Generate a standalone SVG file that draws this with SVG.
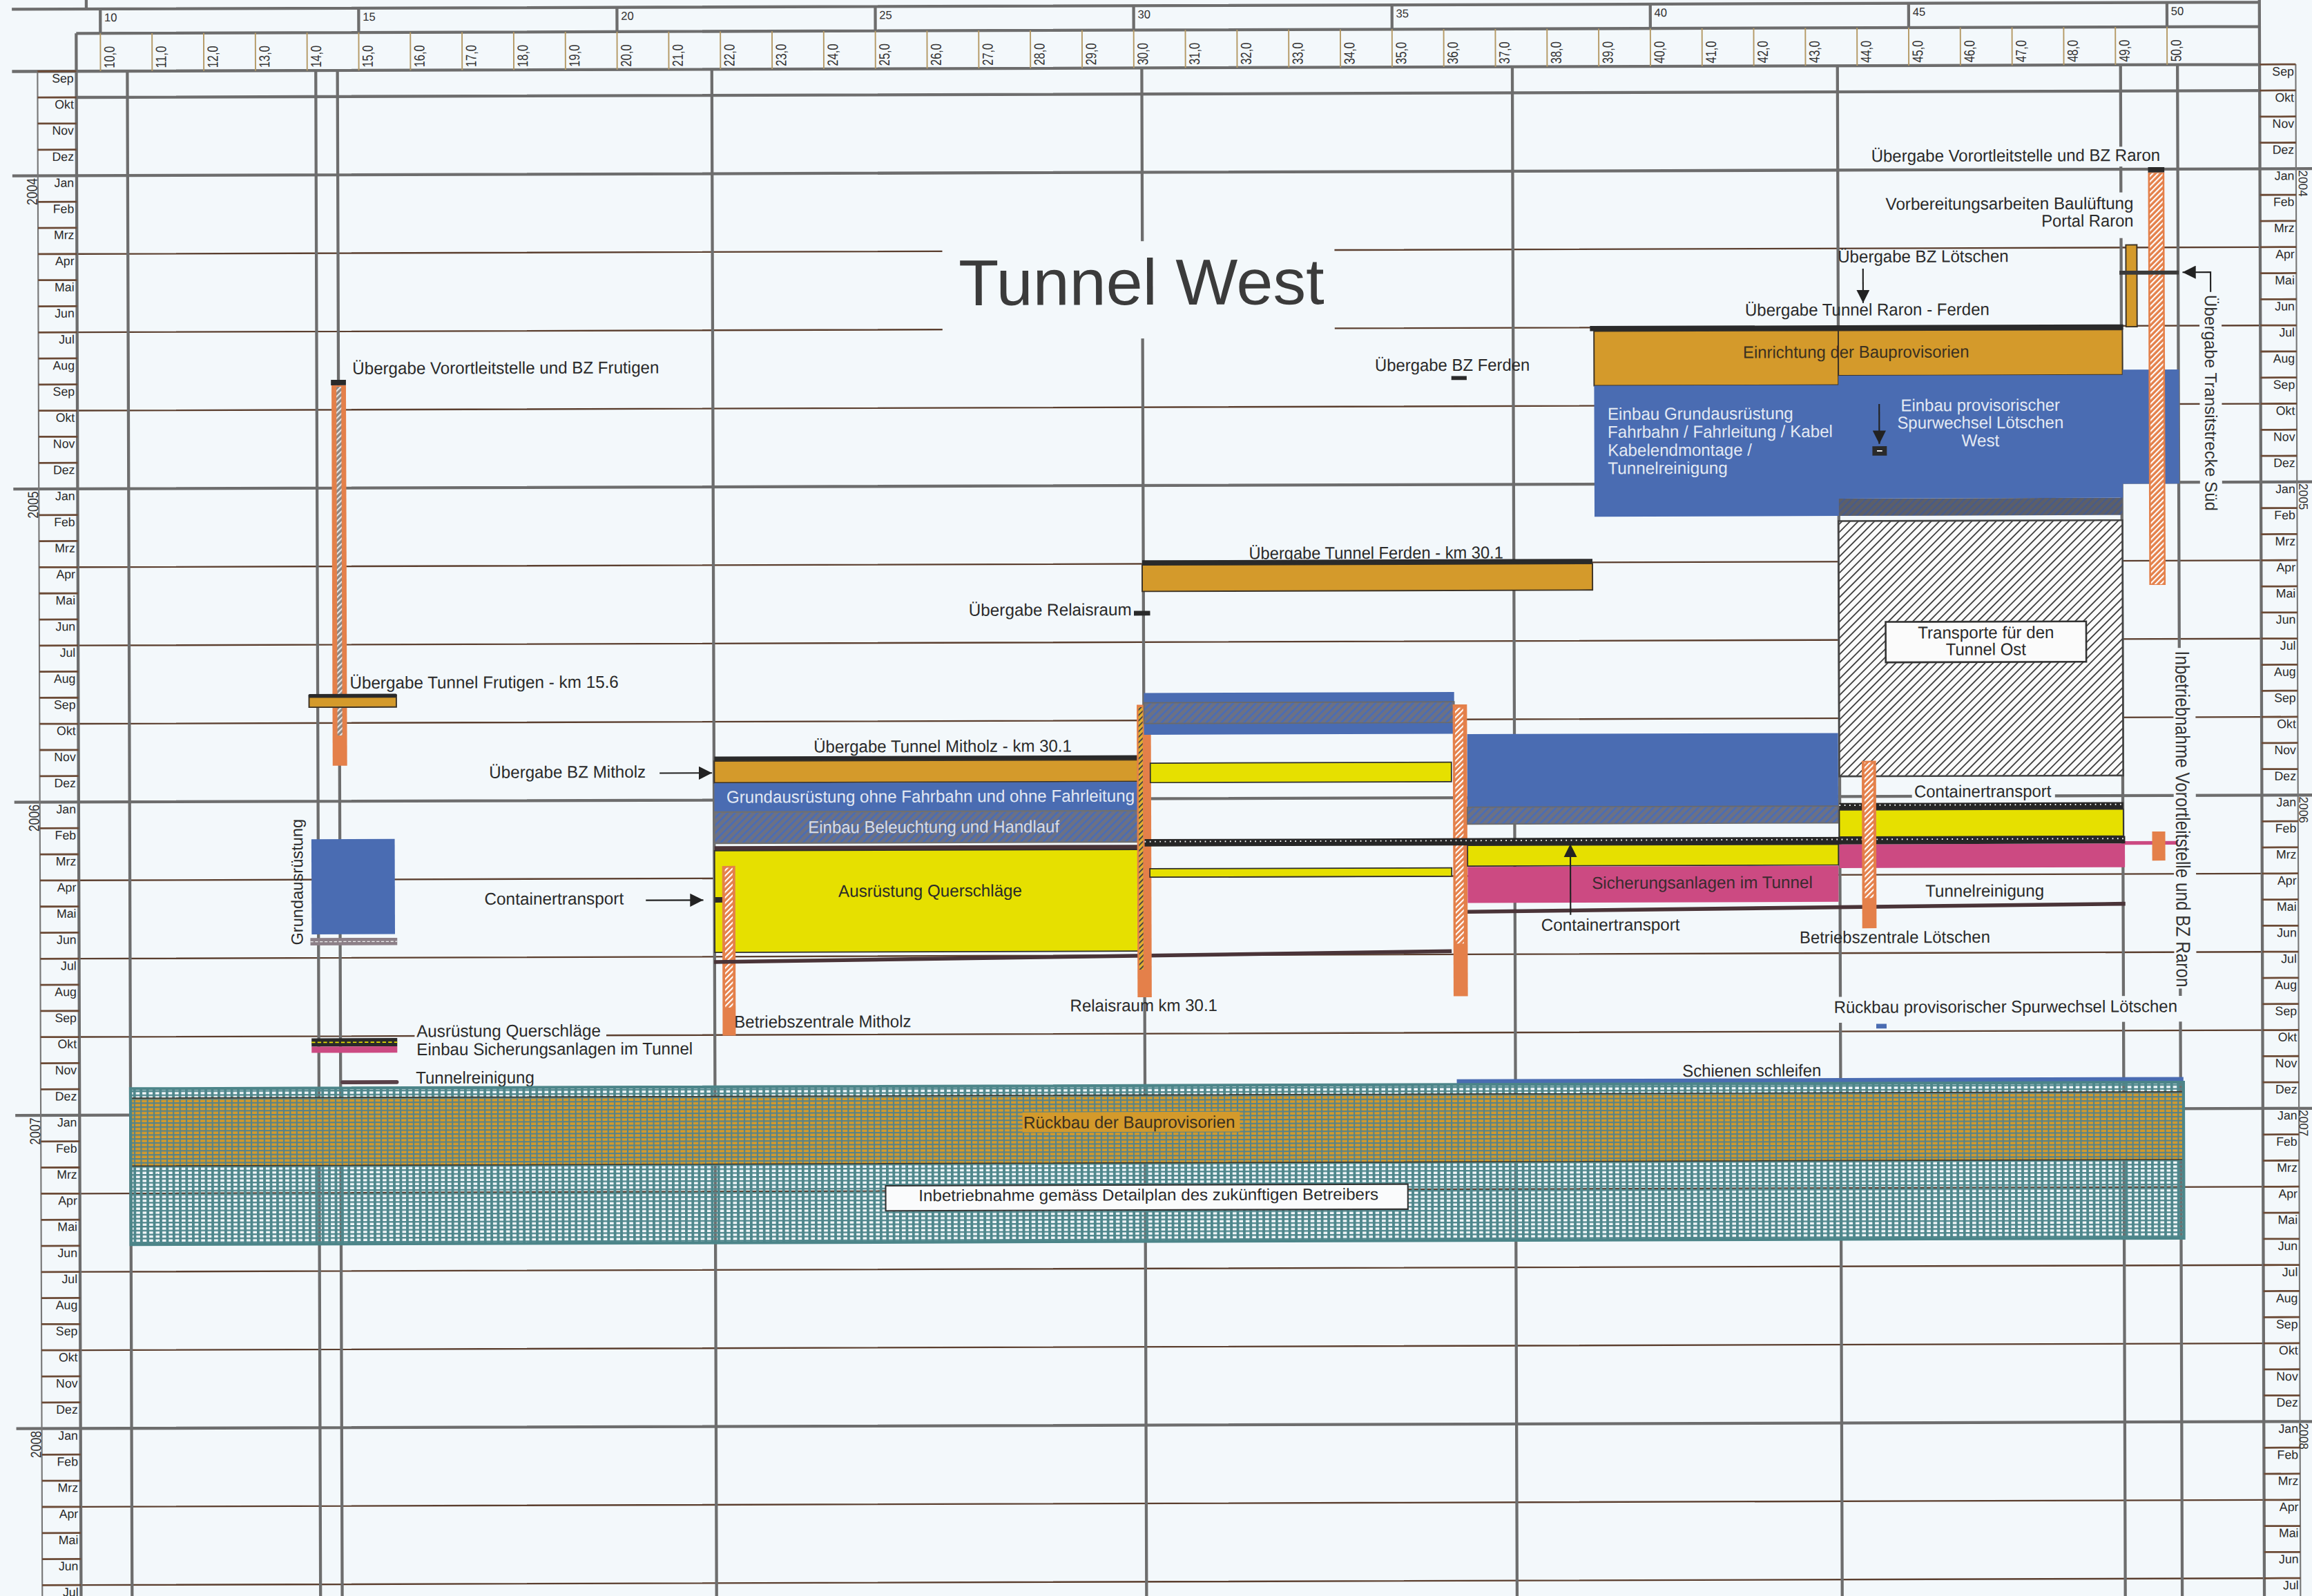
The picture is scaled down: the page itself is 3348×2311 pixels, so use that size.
<svg xmlns="http://www.w3.org/2000/svg" width="3348" height="2311" viewBox="0 0 3348 2311">
<defs>
<style>
.t{font-family:"Liberation Sans",Arial,Helvetica,sans-serif;fill:#2a2a2a;font-size:11.5px}
.mo{font-family:"Liberation Sans",Arial,sans-serif;fill:#2a2a2a;font-size:8.3px;text-anchor:end}
.km{font-family:"Liberation Sans",Arial,sans-serif;fill:#333;font-size:10px}
.kj{font-family:"Liberation Sans",Arial,sans-serif;fill:#333;font-size:7.8px}
.yr{font-family:"Liberation Sans",Arial,sans-serif;fill:#333;font-size:10px}
.yr2{font-family:"Liberation Sans",Arial,sans-serif;fill:#333;font-size:8.5px}
.w{fill:#e3e9f3}
.gv{stroke:#6d6d6d;stroke-width:2;fill:none}
.gb{stroke:#5b3f2f;stroke-width:1.1;fill:none}
.kb{fill:#f3f8fb}
.gold{fill:#d49a2b;stroke:#3b3226;stroke-width:0.9}
.blue{fill:#4a6cb2}
.yel{fill:#e6e000;stroke:#2e2e2e;stroke-width:0.8}
.pink{fill:#cc4a82}
.or{fill:#e4804a}
.blk{fill:#2a2a2a}
.cn{stroke:#222;stroke-width:1;fill:none;marker-end:url(#ah)}
</style>
<pattern id="hB" width="3.6" height="3.6" patternUnits="userSpaceOnUse" patternTransform="rotate(45)"><rect width="3.6" height="3.6" fill="#6c7184"/><rect width="1.3" height="3.6" fill="#4b6cb3"/></pattern>
<pattern id="hD" width="3.4" height="3.4" patternUnits="userSpaceOnUse" patternTransform="rotate(45)"><rect width="3.4" height="3.4" fill="#5d5f68"/><rect width="1.2" height="3.4" fill="#485b88"/></pattern>
<pattern id="hK" width="3.9" height="3.9" patternUnits="userSpaceOnUse" patternTransform="rotate(45)"><rect width="3.9" height="3.9" fill="#fbfbfb"/><rect width="0.85" height="3.9" fill="#404040"/></pattern>
<pattern id="hW" width="2.6" height="2.6" patternUnits="userSpaceOnUse" patternTransform="rotate(45)"><rect width="1" height="2.6" fill="#ffffff"/></pattern>
<pattern id="hG" width="2.6" height="2.6" patternUnits="userSpaceOnUse" patternTransform="rotate(45)"><rect width="2.6" height="2.6" fill="#8f867f"/><rect width="1" height="2.6" fill="#e6e6e6"/></pattern>
<pattern id="hY" width="2.6" height="2.6" patternUnits="userSpaceOnUse" patternTransform="rotate(45)"><rect width="2.6" height="2.6" fill="#e0b030"/><rect width="0.9" height="2.6" fill="#444"/></pattern>
<pattern id="gT" width="4.4" height="2.7" patternUnits="userSpaceOnUse"><path d="M0.9 0V2.7M0 0.55H4.4" stroke="#4f878c" stroke-width="1.1"/><path d="M0.9 0V2.7" stroke="#4f878c" stroke-width="1.8"/></pattern>
<pattern id="gG" width="4.4" height="2.7" patternUnits="userSpaceOnUse"><rect width="4.4" height="2.7" fill="#d49a2b"/><path d="M0.9 0V2.7M0 0.55H4.4" stroke="#55838a" stroke-width="1"/></pattern>
<marker id="ah" viewBox="0 0 10 10" refX="10" refY="5" markerWidth="9" markerHeight="9" markerUnits="userSpaceOnUse" orient="auto"><path d="M0 0L10 5L0 10z" fill="#222"/></marker>
</defs>
<rect width="3348" height="2311" fill="#f3f8fb"/>
<g transform="scale(2.1352) rotate(-0.18)">

<g id="grid">
<path class="gb" d="M51.6 172.4H1532.3M51.6 225.5H1532.3M51.6 278.6H1532.3M51.6 384.8H1532.3M51.6 437.9H1532.3M51.6 491H1532.3M51.6 597.2H1532.3M51.6 650.3H1532.3M51.6 703.4H1532.3M51.6 809.6H1532.3M51.6 862.7H1532.3M51.6 915.8H1532.3M51.6 1022H1532.3M51.6 1075.1H1532.3"/>
<path class="gv" d="M86.2 48.5V1090M214 48.5V1090M228.7 48.5V1090M482.6 48.5V1090M774.2 48.5V1090M1025.5 48.5V1090M1246 48.5V1090M1438 48.5V1090M1476.6 48.5V1090"/>
<path class="gv" stroke-width="2.3" d="M51.6 66.2H1532.3M8 119.3H1568M8 331.7H1568M8 544.1H1568M8 756.5H1568M8 968.9H1568"/>
</g>

<g id="header">
<path class="gv" d="M8 6.3H1532.3M51.6 22.8H1532.3M8 48.5H1532.3M58.5 0V6.3M1532.3 0V1090M51.6 22.8V1090"/>
<path class="gv" d="M68 6.3V22.8M243.2 6.3V22.8M418.4 6.3V22.8M593.6 6.3V22.8M768.8 6.3V22.8M944 6.3V22.8M1119.2 6.3V22.8M1294.4 6.3V22.8M1469.6 6.3V22.8"/>
<path stroke="#b59a66" stroke-width="0.9" d="M68 22.8V48.5M103.04 22.8V48.5M138.08 22.8V48.5M173.12 22.8V48.5M208.16 22.8V48.5M243.2 22.8V48.5M278.24 22.8V48.5M313.28 22.8V48.5M348.32 22.8V48.5M383.36 22.8V48.5M418.4 22.8V48.5M453.44 22.8V48.5M488.48 22.8V48.5M523.52 22.8V48.5M558.56 22.8V48.5M593.6 22.8V48.5M628.64 22.8V48.5M663.68 22.8V48.5M698.72 22.8V48.5M733.76 22.8V48.5M768.8 22.8V48.5M803.84 22.8V48.5M838.88 22.8V48.5M873.92 22.8V48.5M908.96 22.8V48.5M944 22.8V48.5M979.04 22.8V48.5M1014.08 22.8V48.5M1049.12 22.8V48.5M1084.16 22.8V48.5M1119.2 22.8V48.5M1154.24 22.8V48.5M1189.28 22.8V48.5M1224.32 22.8V48.5M1259.36 22.8V48.5M1294.4 22.8V48.5M1329.44 22.8V48.5M1364.48 22.8V48.5M1399.52 22.8V48.5M1434.56 22.8V48.5M1469.6 22.8V48.5"/>
<text class="kj" y="14.8"><tspan x="70.7">10</tspan><tspan x="245.9">15</tspan><tspan x="421.1">20</tspan><tspan x="596.3">25</tspan><tspan x="771.5">30</tspan><tspan x="946.7">35</tspan><tspan x="1121.9">40</tspan><tspan x="1297.1">45</tspan><tspan x="1472.3">50</tspan></text>
<g class="km">
<text transform="translate(77.5 46.5) rotate(-90)" textLength="15" lengthAdjust="spacingAndGlyphs">10,0</text>
<text transform="translate(112.54 46.5) rotate(-90)" textLength="15" lengthAdjust="spacingAndGlyphs">11,0</text>
<text transform="translate(147.58 46.5) rotate(-90)" textLength="15" lengthAdjust="spacingAndGlyphs">12,0</text>
<text transform="translate(182.62 46.5) rotate(-90)" textLength="15" lengthAdjust="spacingAndGlyphs">13,0</text>
<text transform="translate(217.66 46.5) rotate(-90)" textLength="15" lengthAdjust="spacingAndGlyphs">14,0</text>
<text transform="translate(252.7 46.5) rotate(-90)" textLength="15" lengthAdjust="spacingAndGlyphs">15,0</text>
<text transform="translate(287.74 46.5) rotate(-90)" textLength="15" lengthAdjust="spacingAndGlyphs">16,0</text>
<text transform="translate(322.78 46.5) rotate(-90)" textLength="15" lengthAdjust="spacingAndGlyphs">17,0</text>
<text transform="translate(357.82 46.5) rotate(-90)" textLength="15" lengthAdjust="spacingAndGlyphs">18,0</text>
<text transform="translate(392.86 46.5) rotate(-90)" textLength="15" lengthAdjust="spacingAndGlyphs">19,0</text>
<text transform="translate(427.9 46.5) rotate(-90)" textLength="15" lengthAdjust="spacingAndGlyphs">20,0</text>
<text transform="translate(462.94 46.5) rotate(-90)" textLength="15" lengthAdjust="spacingAndGlyphs">21,0</text>
<text transform="translate(497.98 46.5) rotate(-90)" textLength="15" lengthAdjust="spacingAndGlyphs">22,0</text>
<text transform="translate(533.02 46.5) rotate(-90)" textLength="15" lengthAdjust="spacingAndGlyphs">23,0</text>
<text transform="translate(568.06 46.5) rotate(-90)" textLength="15" lengthAdjust="spacingAndGlyphs">24,0</text>
<text transform="translate(603.1 46.5) rotate(-90)" textLength="15" lengthAdjust="spacingAndGlyphs">25,0</text>
<text transform="translate(638.14 46.5) rotate(-90)" textLength="15" lengthAdjust="spacingAndGlyphs">26,0</text>
<text transform="translate(673.18 46.5) rotate(-90)" textLength="15" lengthAdjust="spacingAndGlyphs">27,0</text>
<text transform="translate(708.22 46.5) rotate(-90)" textLength="15" lengthAdjust="spacingAndGlyphs">28,0</text>
<text transform="translate(743.26 46.5) rotate(-90)" textLength="15" lengthAdjust="spacingAndGlyphs">29,0</text>
<text transform="translate(778.3 46.5) rotate(-90)" textLength="15" lengthAdjust="spacingAndGlyphs">30,0</text>
<text transform="translate(813.34 46.5) rotate(-90)" textLength="15" lengthAdjust="spacingAndGlyphs">31,0</text>
<text transform="translate(848.38 46.5) rotate(-90)" textLength="15" lengthAdjust="spacingAndGlyphs">32,0</text>
<text transform="translate(883.42 46.5) rotate(-90)" textLength="15" lengthAdjust="spacingAndGlyphs">33,0</text>
<text transform="translate(918.46 46.5) rotate(-90)" textLength="15" lengthAdjust="spacingAndGlyphs">34,0</text>
<text transform="translate(953.5 46.5) rotate(-90)" textLength="15" lengthAdjust="spacingAndGlyphs">35,0</text>
<text transform="translate(988.54 46.5) rotate(-90)" textLength="15" lengthAdjust="spacingAndGlyphs">36,0</text>
<text transform="translate(1023.58 46.5) rotate(-90)" textLength="15" lengthAdjust="spacingAndGlyphs">37,0</text>
<text transform="translate(1058.62 46.5) rotate(-90)" textLength="15" lengthAdjust="spacingAndGlyphs">38,0</text>
<text transform="translate(1093.66 46.5) rotate(-90)" textLength="15" lengthAdjust="spacingAndGlyphs">39,0</text>
<text transform="translate(1128.7 46.5) rotate(-90)" textLength="15" lengthAdjust="spacingAndGlyphs">40,0</text>
<text transform="translate(1163.74 46.5) rotate(-90)" textLength="15" lengthAdjust="spacingAndGlyphs">41,0</text>
<text transform="translate(1198.78 46.5) rotate(-90)" textLength="15" lengthAdjust="spacingAndGlyphs">42,0</text>
<text transform="translate(1233.82 46.5) rotate(-90)" textLength="15" lengthAdjust="spacingAndGlyphs">43,0</text>
<text transform="translate(1268.86 46.5) rotate(-90)" textLength="15" lengthAdjust="spacingAndGlyphs">44,0</text>
<text transform="translate(1303.9 46.5) rotate(-90)" textLength="15" lengthAdjust="spacingAndGlyphs">45,0</text>
<text transform="translate(1338.94 46.5) rotate(-90)" textLength="15" lengthAdjust="spacingAndGlyphs">46,0</text>
<text transform="translate(1373.98 46.5) rotate(-90)" textLength="15" lengthAdjust="spacingAndGlyphs">47,0</text>
<text transform="translate(1409.02 46.5) rotate(-90)" textLength="15" lengthAdjust="spacingAndGlyphs">48,0</text>
<text transform="translate(1444.06 46.5) rotate(-90)" textLength="15" lengthAdjust="spacingAndGlyphs">49,0</text>
<text transform="translate(1479.1 46.5) rotate(-90)" textLength="15" lengthAdjust="spacingAndGlyphs">50,0</text>
</g>
</g>

<g id="months">
<path stroke="#777" stroke-width="1" d="M25.3 48.5V1090M1556.8 48.5V1090"/>
<path stroke="#6b4a36" stroke-width="1.3" d="M25.3 48.5h26.3M25.3 66.2h26.3M25.3 83.9h26.3M25.3 101.6h26.3M25.3 137h26.3M25.3 154.7h26.3M25.3 172.4h26.3M25.3 190.1h26.3M25.3 207.8h26.3M25.3 225.5h26.3M25.3 243.2h26.3M25.3 260.9h26.3M25.3 278.6h26.3M25.3 296.3h26.3M25.3 314h26.3M25.3 349.4h26.3M25.3 367.1h26.3M25.3 384.8h26.3M25.3 402.5h26.3M25.3 420.2h26.3M25.3 437.9h26.3M25.3 455.6h26.3M25.3 473.3h26.3M25.3 491h26.3M25.3 508.7h26.3M25.3 526.4h26.3M25.3 561.8h26.3M25.3 579.5h26.3M25.3 597.2h26.3M25.3 614.9h26.3M25.3 632.6h26.3M25.3 650.3h26.3M25.3 668h26.3M25.3 685.7h26.3M25.3 703.4h26.3M25.3 721.1h26.3M25.3 738.8h26.3M25.3 774.2h26.3M25.3 791.9h26.3M25.3 809.6h26.3M25.3 827.3h26.3M25.3 845h26.3M25.3 862.7h26.3M25.3 880.4h26.3M25.3 898.1h26.3M25.3 915.8h26.3M25.3 933.5h26.3M25.3 951.2h26.3M25.3 986.6h26.3M25.3 1004.3h26.3M25.3 1022h26.3M25.3 1039.7h26.3M25.3 1057.4h26.3M25.3 1075.1h26.3"/>
<path stroke="#6b4a36" stroke-width="1.3" d="M1532.3 48.5h24.5M1532.3 66.2h24.5M1532.3 83.9h24.5M1532.3 101.6h24.5M1532.3 137h24.5M1532.3 154.7h24.5M1532.3 172.4h24.5M1532.3 190.1h24.5M1532.3 207.8h24.5M1532.3 225.5h24.5M1532.3 243.2h24.5M1532.3 260.9h24.5M1532.3 278.6h24.5M1532.3 296.3h24.5M1532.3 314h24.5M1532.3 349.4h24.5M1532.3 367.1h24.5M1532.3 384.8h24.5M1532.3 402.5h24.5M1532.3 420.2h24.5M1532.3 437.9h24.5M1532.3 455.6h24.5M1532.3 473.3h24.5M1532.3 491h24.5M1532.3 508.7h24.5M1532.3 526.4h24.5M1532.3 561.8h24.5M1532.3 579.5h24.5M1532.3 597.2h24.5M1532.3 614.9h24.5M1532.3 632.6h24.5M1532.3 650.3h24.5M1532.3 668h24.5M1532.3 685.7h24.5M1532.3 703.4h24.5M1532.3 721.1h24.5M1532.3 738.8h24.5M1532.3 774.2h24.5M1532.3 791.9h24.5M1532.3 809.6h24.5M1532.3 827.3h24.5M1532.3 845h24.5M1532.3 862.7h24.5M1532.3 880.4h24.5M1532.3 898.1h24.5M1532.3 915.8h24.5M1532.3 933.5h24.5M1532.3 951.2h24.5M1532.3 986.6h24.5M1532.3 1004.3h24.5M1532.3 1022h24.5M1532.3 1039.7h24.5M1532.3 1057.4h24.5M1532.3 1075.1h24.5"/>
<text class="mo"><tspan x="49.8" y="56.1">Sep</tspan><tspan x="49.8" y="73.8">Okt</tspan><tspan x="49.8" y="91.5">Nov</tspan><tspan x="49.8" y="109.2">Dez</tspan><tspan x="49.8" y="126.9">Jan</tspan><tspan x="49.8" y="144.6">Feb</tspan><tspan x="49.8" y="162.3">Mrz</tspan><tspan x="49.8" y="180">Apr</tspan><tspan x="49.8" y="197.7">Mai</tspan><tspan x="49.8" y="215.4">Jun</tspan><tspan x="49.8" y="233.1">Jul</tspan><tspan x="49.8" y="250.8">Aug</tspan><tspan x="49.8" y="268.5">Sep</tspan><tspan x="49.8" y="286.2">Okt</tspan><tspan x="49.8" y="303.9">Nov</tspan><tspan x="49.8" y="321.6">Dez</tspan><tspan x="49.8" y="339.3">Jan</tspan><tspan x="49.8" y="357">Feb</tspan><tspan x="49.8" y="374.7">Mrz</tspan><tspan x="49.8" y="392.4">Apr</tspan><tspan x="49.8" y="410.1">Mai</tspan><tspan x="49.8" y="427.8">Jun</tspan><tspan x="49.8" y="445.5">Jul</tspan><tspan x="49.8" y="463.2">Aug</tspan><tspan x="49.8" y="480.9">Sep</tspan><tspan x="49.8" y="498.6">Okt</tspan><tspan x="49.8" y="516.3">Nov</tspan><tspan x="49.8" y="534">Dez</tspan><tspan x="49.8" y="551.7">Jan</tspan><tspan x="49.8" y="569.4">Feb</tspan><tspan x="49.8" y="587.1">Mrz</tspan><tspan x="49.8" y="604.8">Apr</tspan><tspan x="49.8" y="622.5">Mai</tspan><tspan x="49.8" y="640.2">Jun</tspan><tspan x="49.8" y="657.9">Jul</tspan><tspan x="49.8" y="675.6">Aug</tspan><tspan x="49.8" y="693.3">Sep</tspan><tspan x="49.8" y="711">Okt</tspan><tspan x="49.8" y="728.7">Nov</tspan><tspan x="49.8" y="746.4">Dez</tspan><tspan x="49.8" y="764.1">Jan</tspan><tspan x="49.8" y="781.8">Feb</tspan><tspan x="49.8" y="799.5">Mrz</tspan><tspan x="49.8" y="817.2">Apr</tspan><tspan x="49.8" y="834.9">Mai</tspan><tspan x="49.8" y="852.6">Jun</tspan><tspan x="49.8" y="870.3">Jul</tspan><tspan x="49.8" y="888">Aug</tspan><tspan x="49.8" y="905.7">Sep</tspan><tspan x="49.8" y="923.4">Okt</tspan><tspan x="49.8" y="941.1">Nov</tspan><tspan x="49.8" y="958.8">Dez</tspan><tspan x="49.8" y="976.5">Jan</tspan><tspan x="49.8" y="994.2">Feb</tspan><tspan x="49.8" y="1011.9">Mrz</tspan><tspan x="49.8" y="1029.6">Apr</tspan><tspan x="49.8" y="1047.3">Mai</tspan><tspan x="49.8" y="1065">Jun</tspan><tspan x="49.8" y="1082.7">Jul</tspan></text>
<text class="mo"><tspan x="1555.6" y="56.1">Sep</tspan><tspan x="1555.6" y="73.8">Okt</tspan><tspan x="1555.6" y="91.5">Nov</tspan><tspan x="1555.6" y="109.2">Dez</tspan><tspan x="1555.6" y="126.9">Jan</tspan><tspan x="1555.6" y="144.6">Feb</tspan><tspan x="1555.6" y="162.3">Mrz</tspan><tspan x="1555.6" y="180">Apr</tspan><tspan x="1555.6" y="197.7">Mai</tspan><tspan x="1555.6" y="215.4">Jun</tspan><tspan x="1555.6" y="233.1">Jul</tspan><tspan x="1555.6" y="250.8">Aug</tspan><tspan x="1555.6" y="268.5">Sep</tspan><tspan x="1555.6" y="286.2">Okt</tspan><tspan x="1555.6" y="303.9">Nov</tspan><tspan x="1555.6" y="321.6">Dez</tspan><tspan x="1555.6" y="339.3">Jan</tspan><tspan x="1555.6" y="357">Feb</tspan><tspan x="1555.6" y="374.7">Mrz</tspan><tspan x="1555.6" y="392.4">Apr</tspan><tspan x="1555.6" y="410.1">Mai</tspan><tspan x="1555.6" y="427.8">Jun</tspan><tspan x="1555.6" y="445.5">Jul</tspan><tspan x="1555.6" y="463.2">Aug</tspan><tspan x="1555.6" y="480.9">Sep</tspan><tspan x="1555.6" y="498.6">Okt</tspan><tspan x="1555.6" y="516.3">Nov</tspan><tspan x="1555.6" y="534">Dez</tspan><tspan x="1555.6" y="551.7">Jan</tspan><tspan x="1555.6" y="569.4">Feb</tspan><tspan x="1555.6" y="587.1">Mrz</tspan><tspan x="1555.6" y="604.8">Apr</tspan><tspan x="1555.6" y="622.5">Mai</tspan><tspan x="1555.6" y="640.2">Jun</tspan><tspan x="1555.6" y="657.9">Jul</tspan><tspan x="1555.6" y="675.6">Aug</tspan><tspan x="1555.6" y="693.3">Sep</tspan><tspan x="1555.6" y="711">Okt</tspan><tspan x="1555.6" y="728.7">Nov</tspan><tspan x="1555.6" y="746.4">Dez</tspan><tspan x="1555.6" y="764.1">Jan</tspan><tspan x="1555.6" y="781.8">Feb</tspan><tspan x="1555.6" y="799.5">Mrz</tspan><tspan x="1555.6" y="817.2">Apr</tspan><tspan x="1555.6" y="834.9">Mai</tspan><tspan x="1555.6" y="852.6">Jun</tspan><tspan x="1555.6" y="870.3">Jul</tspan><tspan x="1555.6" y="888">Aug</tspan><tspan x="1555.6" y="905.7">Sep</tspan><tspan x="1555.6" y="923.4">Okt</tspan><tspan x="1555.6" y="941.1">Nov</tspan><tspan x="1555.6" y="958.8">Dez</tspan><tspan x="1555.6" y="976.5">Jan</tspan><tspan x="1555.6" y="994.2">Feb</tspan><tspan x="1555.6" y="1011.9">Mrz</tspan><tspan x="1555.6" y="1029.6">Apr</tspan><tspan x="1555.6" y="1047.3">Mai</tspan><tspan x="1555.6" y="1065">Jun</tspan><tspan x="1555.6" y="1082.7">Jul</tspan></text>
<g class="yr">
<text transform="translate(24.8 139.3) rotate(-90)" textLength="18.5" lengthAdjust="spacingAndGlyphs">2004</text>
<text transform="translate(24.8 351.7) rotate(-90)" textLength="18.5" lengthAdjust="spacingAndGlyphs">2005</text>
<text transform="translate(24.8 564.1) rotate(-90)" textLength="18.5" lengthAdjust="spacingAndGlyphs">2006</text>
<text transform="translate(24.8 776.5) rotate(-90)" textLength="18.5" lengthAdjust="spacingAndGlyphs">2007</text>
<text transform="translate(24.8 988.9) rotate(-90)" textLength="18.5" lengthAdjust="spacingAndGlyphs">2008</text>
</g>
<g class="yr2">
<text transform="translate(1558.6 120.3) rotate(90)" textLength="18" lengthAdjust="spacingAndGlyphs">2004</text>
<text transform="translate(1558.2 332.7) rotate(90)" textLength="18" lengthAdjust="spacingAndGlyphs">2005</text>
<text transform="translate(1557.6 545.1) rotate(90)" textLength="18" lengthAdjust="spacingAndGlyphs">2006</text>
<text transform="translate(1557.0 757.5) rotate(90)" textLength="18" lengthAdjust="spacingAndGlyphs">2007</text>
<text transform="translate(1556.4 969.9) rotate(90)" textLength="18" lengthAdjust="spacingAndGlyphs">2008</text>
</g>
</g>

<g id="knockouts">
<rect class="kb" x="638.5" y="166" width="266" height="66"/>
<rect class="kb" x="1266" y="104" width="201" height="13.5"/>
<rect class="kb" x="1276" y="135" width="173" height="31"/>
<rect class="kb" x="1491" y="203" width="15" height="149"/>
<rect class="kb" x="1472.5" y="444" width="15" height="231"/>
<rect class="kb" x="1239.5" y="680" width="239.5" height="17.5"/>
<rect class="kb" x="1295" y="535" width="97" height="11.5"/>
<rect class="kb" x="279" y="695" width="130" height="11.5"/>
</g>

<g id="title"><text class="t" x="649.5" y="209" style="font-size:44px;fill:#3b3b3b" textLength="248" lengthAdjust="spacingAndGlyphs">Tunnel West</text></g>

<g id="n-frutigen-bz">
<rect class="or" x="224" y="262" width="9.8" height="258"/>
<rect x="227.3" y="263" width="3.3" height="236.5" fill="url(#hG)"/>
<rect class="blk" x="223.6" y="258.3" width="10.2" height="3.7"/>
<text class="t" x="238.2" y="254.5" textLength="208" lengthAdjust="spacingAndGlyphs">Übergabe Vorortleitstelle und BZ Frutigen</text>
</g>

<g id="n-frutigen-tunnel">
<rect class="gold" x="208.1" y="473.5" width="59.2" height="6.8"/>
<rect class="blk" x="207.6" y="471.3" width="60.2" height="2.4" rx="1"/>
<text class="t" x="235.7" y="467.7" textLength="182.4" lengthAdjust="spacingAndGlyphs">Übergabe Tunnel Frutigen - km 15.6</text>
</g>

<g id="n-grundausruestung-frutigen">
<rect class="blue" x="209.4" y="569.8" width="56.5" height="64.5"/>
<rect x="208.5" y="636.8" width="58.9" height="5" fill="#8c7f87"/>
<path d="M208.5 639.3H267.4" stroke="#eee" stroke-width="0.6" stroke-dasharray="2 1.2"/>
<text class="t" transform="translate(203.4 641.6) rotate(-90)" style="font-size:11.1px" textLength="85.6" lengthAdjust="spacingAndGlyphs">Grundausrüstung</text>
</g>

<g id="n-legend">
<rect x="209.1" y="704.8" width="58.1" height="5.6" fill="#2a2a2a"/>
<path d="M209.1 707.6H267.2" stroke="#e6e000" stroke-width="0.8" stroke-dasharray="2.5 1.5"/>
<rect class="pink" x="209.1" y="710.4" width="58.1" height="4.3"/>
<rect x="228.7" y="733.3" width="39.4" height="2.7" rx="1.3" fill="#5a4048"/>
<text class="t" x="280.3" y="704.1" textLength="124.9" lengthAdjust="spacingAndGlyphs">Ausrüstung Querschläge</text>
<text class="t" x="280.3" y="716.5" textLength="187.3" lengthAdjust="spacingAndGlyphs">Einbau Sicherungsanlagen im Tunnel</text>
<text class="t" x="279.7" y="735.7" textLength="80.4" lengthAdjust="spacingAndGlyphs">Tunnelreinigung</text>
</g>

<g id="n-bz-mitholz">
<rect class="blk" x="487.8" y="524.2" width="9.3" height="3"/>
<text class="t" x="330.1" y="528.7" textLength="106.2" lengthAdjust="spacingAndGlyphs">Übergabe BZ Mitholz</text>
</g>

<g id="n-mitholz">
<rect class="blk" x="482.8" y="514.6" width="291.4" height="3.1"/>
<rect class="gold" x="482.8" y="517.7" width="291.4" height="14.7"/>
<rect class="blue" x="482.8" y="532.6" width="291.4" height="19.6"/>
<rect x="482.8" y="552.2" width="291.4" height="21.2" fill="url(#hB)" stroke="#707070" stroke-width="1"/>
<rect x="482.8" y="575.3" width="288.4" height="3.2" fill="#4a3438"/>
<rect class="yel" x="482.8" y="578.5" width="288.4" height="68.9"/>
<text class="t" x="550.2" y="512" textLength="175" lengthAdjust="spacingAndGlyphs">Übergabe Tunnel Mitholz - km 30.1</text>
<text class="t w" x="491" y="546" textLength="276.8" lengthAdjust="spacingAndGlyphs">Grundausrüstung ohne Fahrbahn und ohne Fahrleitung</text>
<text class="t" x="546.3" y="566.7" style="fill:#d8dde6" textLength="170.4" lengthAdjust="spacingAndGlyphs">Einbau Beleuchtung und Handlauf</text>
<text class="t" x="566.7" y="610" textLength="124.5" lengthAdjust="spacingAndGlyphs">Ausrüstung Querschläge</text>
</g>

<g id="n-containertransport-west">
<rect class="blk" x="483.1" y="609.9" width="8.8" height="3.7"/>
<text class="t" x="326.6" y="614.6" textLength="94.5" lengthAdjust="spacingAndGlyphs">Containertransport</text>
</g>

<g id="n-bz-mitholz-ctr">
<rect class="or" x="487.9" y="588.8" width="8.9" height="115"/>
<rect x="489.7" y="590" width="5.3" height="94.8" fill="url(#hW)"/>
<text class="t" x="495.8" y="698.5" textLength="120" lengthAdjust="spacingAndGlyphs">Betriebszentrale Mitholz</text>
</g>

<g id="n-tunnelreinigung">
<path d="M482.3 653.9L982.5 648.1" stroke="#4a3438" stroke-width="2.6"/>
<path d="M985 621.5L1439.5 617.4" stroke="#4a3438" stroke-width="2.6"/>
<text class="t" x="1303.9" y="612.3" textLength="80.5" lengthAdjust="spacingAndGlyphs">Tunnelreinigung</text>
</g>

<g id="n-relais">
<rect class="or" x="769.4" y="480.4" width="9.6" height="198.3"/>
<rect x="770.6" y="482" width="2.8" height="178" fill="url(#hY)"/>
<text class="t" x="723.6" y="688.2" textLength="99.9" lengthAdjust="spacingAndGlyphs">Relaisraum km 30.1</text>
</g>

<g id="n-uebergabe-relais">
<rect class="blk" x="767.7" y="416.7" width="11" height="3.2"/>
<text class="t" x="655.7" y="419.7" textLength="110.5" lengthAdjust="spacingAndGlyphs">Übergabe Relaisraum</text>
</g>

<g id="n-ferden-tunnel">
<rect class="gold" x="773.4" y="385.6" width="305.4" height="17.9"/>
<rect class="blk" x="773.4" y="382.4" width="305.4" height="3.2"/>
<text class="t" x="845.8" y="381.8" textLength="172.5" lengthAdjust="spacingAndGlyphs">Übergabe Tunnel Ferden - km 30.1</text>
</g>

<g id="n-ferden-bz">
<rect class="blk" x="983.5" y="258.1" width="10.4" height="2.7"/>
<text class="t" x="931.7" y="254.6" textLength="105" lengthAdjust="spacingAndGlyphs">Übergabe BZ Ferden</text>
</g>

<g id="n-mid-bars">
<rect class="blue" x="774.3" y="472.4" width="210.4" height="28.3"/>
<rect x="774.3" y="479" width="210.4" height="14.1" fill="url(#hB)" stroke="#6a6a6a" stroke-width="0.8"/>
<rect class="yel" x="778.5" y="520" width="204.2" height="13.2"/>
<rect class="yel" x="778" y="591.6" width="204.7" height="5.7"/>
</g>

<g id="n-orange-988">
<rect class="or" x="983.7" y="480.8" width="9.7" height="197.9"/>
<rect x="985.3" y="483" width="5.5" height="160" fill="url(#hW)"/>
</g>

<g id="n-loetschen-section">
<rect class="blue" x="993.5" y="501" width="251.5" height="49.5"/>
<rect x="993.5" y="550.5" width="251.5" height="11.5" fill="url(#hB)" stroke="#6a6a6a" stroke-width="0.8"/>
<rect class="yel" x="993.5" y="576.5" width="251.5" height="14"/>
<rect class="pink" x="993.5" y="591" width="251.5" height="24.5"/>
<text class="t" x="1077.7" y="606.1" style="fill:#3a2a30" textLength="149.8" lengthAdjust="spacingAndGlyphs">Sicherungsanlagen im Tunnel</text>
</g>

<g id="n-containertransport-mid">
<text class="t" x="1043.2" y="634.5" textLength="94.1" lengthAdjust="spacingAndGlyphs">Containertransport</text>
</g>

<g id="n-transporte">
<rect x="1246" y="342" width="192.3" height="11.8" fill="url(#hD)"/>
<rect x="1245.8" y="357.3" width="192.5" height="173.1" fill="url(#hK)" stroke="#444" stroke-width="1.2"/>
<rect x="1277.5" y="425.8" width="136" height="27.4" fill="#fbfbfb" stroke="#333" stroke-width="1.2"/>
<text class="t" x="1345.5" y="437.1" text-anchor="middle" textLength="92.4" lengthAdjust="spacingAndGlyphs">Transporte für den</text>
<text class="t" x="1345.5" y="448.5" text-anchor="middle" textLength="54.4" lengthAdjust="spacingAndGlyphs">Tunnel Ost</text>
</g>

<g id="n-east-bars">
<rect x="1245.7" y="548.5" width="192.6" height="4.7" fill="#262626"/>
<path d="M1245.7 550H1438.3" stroke="#fff" stroke-width="0.9" stroke-dasharray="0.8 2.6"/>
<rect class="yel" x="1245.7" y="553.2" width="192.6" height="18.3"/>
<rect class="pink" x="1245.7" y="576.5" width="193.6" height="16.1"/>
<rect class="pink" x="1439.2" y="575" width="36" height="2.4"/>
<rect class="or" x="1457.8" y="568.5" width="8.9" height="19.7"/>
<text class="t" x="1296.5" y="544.8" textLength="93" lengthAdjust="spacingAndGlyphs">Containertransport</text>
</g>

<g id="n-ctr-dotted">
<rect x="774.5" y="571.5" width="665" height="5" fill="#262626"/>
<path d="M774.5 573.2H1439.5" stroke="#fff" stroke-width="0.9" stroke-dasharray="0.8 2.6"/>
</g>

<g id="n-bz-loetschen-ctr">
<rect class="or" x="1261" y="519.9" width="9.7" height="113.6"/>
<rect x="1262.8" y="521" width="6" height="92" fill="url(#hW)"/>
<text class="t" x="1218.5" y="643.5" textLength="129.2" lengthAdjust="spacingAndGlyphs">Betriebszentrale Lötschen</text>
</g>

<g id="n-einrichtung">
<rect class="gold" x="1080.3" y="228" width="165.7" height="37"/>
<rect class="gold" x="1246" y="228" width="192.7" height="30.7"/>
<rect class="blk" x="1077.6" y="224.5" width="361.7" height="3.5"/>
<text class="t" x="1181.3" y="246.6" style="fill:#3a3020" textLength="153.4" lengthAdjust="spacingAndGlyphs">Einrichtung der Bauprovisorien</text>
</g>

<g id="n-grundausruestung-west">
<path class="blue" d="M1080.3 265H1246V258.7H1438.7V255.2H1477V332.6H1438.7V342H1246V353.8H1080.3Z"/>
<text class="t w" x="1089.4" y="288.1" textLength="125.9" lengthAdjust="spacingAndGlyphs">Einbau Grundausrüstung</text>
<text class="t w" x="1089.4" y="300.3" textLength="152.6" lengthAdjust="spacingAndGlyphs">Fahrbahn / Fahrleitung / Kabel</text>
<text class="t w" x="1089.4" y="312.7" textLength="97.8" lengthAdjust="spacingAndGlyphs">Kabelendmontage /</text>
<text class="t w" x="1089.4" y="324.9" textLength="81.3" lengthAdjust="spacingAndGlyphs">Tunnelreinigung</text>
<text class="t w" x="1342.2" y="282.9" text-anchor="middle" textLength="108" lengthAdjust="spacingAndGlyphs">Einbau provisorischer</text>
<text class="t w" x="1342.2" y="294.7" text-anchor="middle" textLength="112.8" lengthAdjust="spacingAndGlyphs">Spurwechsel Lötschen</text>
<text class="t w" x="1342.2" y="306.9" text-anchor="middle" textLength="25.7" lengthAdjust="spacingAndGlyphs">West</text>
<rect class="blk" x="1268.9" y="306.6" width="9.8" height="6.4"/>
<path d="M1272 309.8H1275.6" stroke="#fff" stroke-width="0.8"/>
</g>

<g id="n-bz-loetschen">
<text class="t" x="1245.8" y="181.9" textLength="115.9" lengthAdjust="spacingAndGlyphs">Übergabe BZ Lötschen</text>
</g>

<g id="n-raron-ferden">
<text class="t" x="1182.8" y="217.9" textLength="165.8" lengthAdjust="spacingAndGlyphs">Übergabe Tunnel Raron - Ferden</text>
</g>

<g id="n-raron">
<rect class="or" x="1456.4" y="121.5" width="11.1" height="279.8"/>
<rect x="1457.6" y="122" width="8.7" height="278.8" fill="url(#hW)"/>
<rect class="blk" x="1456.4" y="117.9" width="11.1" height="3.6"/>
<text class="t" x="1268.7" y="113.7" textLength="196" lengthAdjust="spacingAndGlyphs">Übergabe Vorortleitstelle und BZ Raron</text>
</g>

<g id="n-vorbereitung">
<rect class="gold" x="1441.2" y="170.6" width="7.5" height="55.5"/>
<text class="t" x="1446.5" y="146.3" text-anchor="end" textLength="168.1" lengthAdjust="spacingAndGlyphs">Vorbereitungsarbeiten Baulüftung</text>
<text class="t" x="1446.5" y="158.1" text-anchor="end" textLength="62.5" lengthAdjust="spacingAndGlyphs">Portal Raron</text>
</g>

<g id="n-transit">
<rect x="1436.8" y="188.1" width="40.2" height="2.7" fill="#3a3a3a"/>
<text class="t" transform="translate(1494.6 204.7) rotate(90)" style="fill:#333" textLength="146.6" lengthAdjust="spacingAndGlyphs">Übergabe Transitstrecke Süd</text>
</g>

<g id="n-inbetriebnahme-raron">
<text class="t" transform="translate(1474 446.1) rotate(90)" style="font-size:13.5px;fill:#333" textLength="228" lengthAdjust="spacingAndGlyphs">Inbetriebnahme Vorortleitstelle und BZ Raron</text>
</g>

<g id="n-rueckbau-spur">
<rect class="blue" x="1270.3" y="698.3" width="7" height="3.2"/>
<text class="t" x="1241.6" y="690.9" textLength="232.9" lengthAdjust="spacingAndGlyphs">Rückbau provisorischer Spurwechsel Lötschen</text>
</g>

<g id="n-schienen">
<rect class="blue" x="985.7" y="735" width="492.8" height="3.8"/>
<text class="t" x="1138.7" y="733.7" textLength="94.2" lengthAdjust="spacingAndGlyphs">Schienen schleifen</text>
</g>

<g id="n-rueckbau">
<rect x="86.2" y="738.6" width="1392.3" height="105.7" fill="url(#gT)"/>
<rect x="86.2" y="745" width="1392.3" height="46" fill="url(#gG)"/>
<path d="M86.2 745H1478.5M86.2 791H1478.5" stroke="#3d3a30" stroke-width="0.8"/>
<rect x="86.2" y="738.6" width="1392.3" height="105.7" fill="none" stroke="#4c8589" stroke-width="2"/>
<rect x="691" y="756.5" width="147.5" height="13.5" fill="#d49a2b"/>
<text class="t" x="691.7" y="767.4" style="fill:#3a3020" textLength="143.5" lengthAdjust="spacingAndGlyphs">Rückbau der Bauprovisorien</text>
</g>

<g id="n-inbetriebnahme">
<rect x="598.1" y="806" width="354.2" height="17" fill="#fafbfc" stroke="#333" stroke-width="1"/>
<text class="t" x="620.5" y="816.5" style="font-size:11px" textLength="311.8" lengthAdjust="spacingAndGlyphs">Inbetriebnahme gemäss Detailplan des zukünftigen Betreibers</text>
</g>

<g id="connectors">
<path class="cn" d="M445.7 525.7H481.3"/>
<path class="cn" d="M436.1 611.9H475.1"/>
<path class="cn" d="M1063.2 623.8V575.7"/>
<path class="cn" d="M1262.9 186.1V209.5"/>
<path class="cn" d="M1273.6 278V305"/>
<path class="cn" d="M1498.6 202.7V189.3H1479.6"/>
</g>

</g>
</svg>
